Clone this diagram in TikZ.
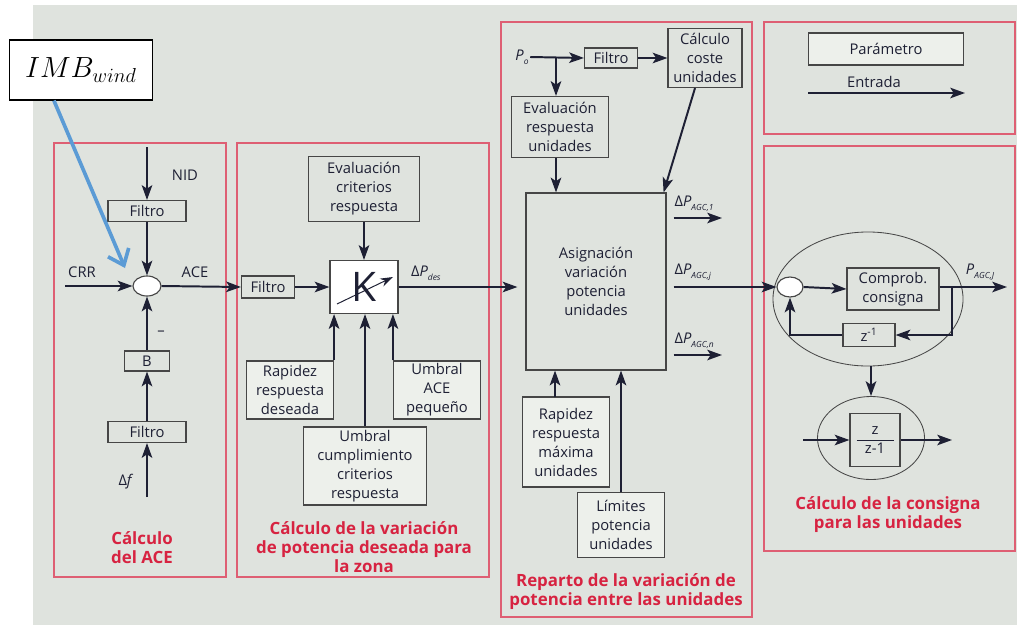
\documentclass[tikz,border=0pt]{standalone}
\usepackage{fontspec}
\setmainfont{Open Sans}
\usetikzlibrary{arrows.meta,positioning,shapes.geometric,calc}
\definecolor{agcgrey}{RGB}{223,227,222}
\definecolor{agcparam}{RGB}{237,240,235}
\definecolor{agcline}{RGB}{70,70,70}
\definecolor{agcred}{RGB}{222,95,115}
\definecolor{agctitle}{RGB}{215,35,65}
\definecolor{agcink}{RGB}{30,32,52}
\definecolor{agcblue}{RGB}{91,155,213}
\newcommand{\boxfont}{\fontsize{10.5}{13.5}\selectfont}
\newcommand{\titlefont}{\fontsize{12}{13.5}\selectfont\bfseries}
\newcommand{\lowtext}[1]{\raisebox{-0.5ex}{\fontsize{6}{6}\selectfont\itshape #1}}

\begin{document}
\begin{tikzpicture}[x=0.025cm,y=-0.025cm,
    blk/.style={draw=agcline,fill=agcgrey,line width=0.8pt,inner sep=1pt,
                align=center,text=agcink,font=\boxfont},
    param/.style={fill=agcparam},
    sumnode/.style={ellipse,draw=agcline,fill=white,line width=0.8pt,
                    minimum width=0.7cm,minimum height=0.5cm,inner sep=0pt},
    flow/.style={-{Stealth[length=10.5pt,width=7.5pt,inset=2.5pt]},line width=1.4pt,draw=agcink},
    lbl/.style={text=agcink,font=\boxfont,inner sep=1pt},
    sublbl/.style={lbl,above right,yshift=3pt},
    panel/.style={draw=agcred,line width=0.9pt},
    ptitle/.style={text=agctitle,font=\titlefont,align=center,inner sep=0pt}]

  % background and panels
  \fill[white] (0,0) rectangle (1017,625);
  \fill[agcgrey] (33,5) rectangle (1017,625);
  \draw[panel] (54,143) rectangle (226,577);
  \draw[panel] (237,143) rectangle (489,577);
  \draw[panel] (501,22) rectangle (752,617);
  \draw[panel] (764,22) rectangle (1015,134);
  \draw[panel] (764,146) rectangle (1015,551);

  % Left panel: ACE
  \node[sumnode] (sace) at (147,286) {};
  \node[blk,minimum width=1.95cm,minimum height=0.525cm] (fnid) at (147,211) {Filtro};
  \node[blk,minimum width=1.125cm,minimum height=0.5cm] (bgain) at (147,361) {B};
  \node[blk,minimum width=1.95cm,minimum height=0.525cm] (fdf) at (147,432) {Filtro};
  \coordinate (nidin) at (147,147);
  \coordinate (crrin) at (65,286);
  \coordinate (dfin) at (147,497);
  \draw[flow] (nidin) -- (fnid.north);
  \draw[flow] (fnid.south) -- (sace.north);
  \draw[flow] (crrin) -- (sace.west);
  \draw[flow] (dfin) -- (fdf.south);
  \draw[flow] (fdf.north) -- (bgain.south);
  \draw[flow] (bgain.north) -- (sace.south);
  \node[lbl] (nid) at (185,175) {NID};
  \node[lbl] (crr) at (82,272) {CRR};
  \node[lbl] (ace) at (195,272) {ACE};
  \node[lbl] (minus) at (161,333) {--};
  \node[lbl] (dflbl) at (126,482) {Δ\textit{f}};
  \node[ptitle] (tace) at (142,548) {Cálculo\\del ACE};

  % Second panel: zone
  \node[blk,minimum width=1.325cm,minimum height=0.55cm] (fzone) at (268,287) {Filtro};
  \node[blk,fill=white,minimum width=1.7cm,minimum height=1.325cm,
        font=\fontsize{29}{29}\selectfont] (kgain) at (364,287) {K};
  \draw[-{Stealth[length=9pt,width=6pt]},line width=0.7pt,agcink]
        ($(kgain.center)+(-27,17)$) -- ($(kgain.center)+(29,-10)$);
  \node[blk,minimum width=2.775cm,minimum height=1.625cm] (evcrit) at (364,189)
        {Evaluación\\criterios\\respuesta};
  \node[blk,param,minimum width=2.175cm,minimum height=1.45cm] (rapdes) at (290,390)
        {Rapidez\\respuesta\\deseada};
  \node[blk,param,minimum width=2.175cm,minimum height=1.45cm] (uace) at (437,390)
        {Umbral\\ACE\\pequeño};
  \node[blk,param,minimum width=3.075cm,minimum height=1.95cm] (umbc) at (365,466)
        {Umbral\\cumplimiento\\criterios\\respuesta};
  \draw[flow] (sace.east) -- (fzone.west);
  \draw[flow] (fzone.east) -- (kgain.west);
  \draw[flow] (evcrit.south) -- (kgain.north);
  \draw[flow] (rapdes.north east) -- (rapdes.north east |- kgain.south);
  \draw[flow] (uace.north west) -- (uace.north west |- kgain.south);
  \draw[flow] (umbc.north) -- (umbc.north |- kgain.south);
  \node[ptitle] (tzone) at (364,547)
        {Cálculo de la variación\\de potencia deseada para\\la zona};

  % Third panel: units
  \node[lbl] (polbl) at (522,57) {\textit{P}\lowtext{o}};
  \node[blk,minimum width=1.325cm,minimum height=0.5cm] (fpo) at (611,58) {Filtro};
  \node[blk,minimum width=1.85cm,minimum height=1.475cm] (coste) at (705,58)
        {Cálculo\\coste\\unidades};
  \node[blk,minimum width=2.425cm,minimum height=1.525cm] (evresp) at (560,127)
        {Evaluación\\respuesta\\unidades};
  \node[blk,minimum width=3.5cm,minimum height=4.425cm] (asig) at (596,281.5)
        {Asignación\\variación\\potencia\\unidades};
  \node[blk,param,minimum width=2.175cm,minimum height=2.25cm] (rapmax) at (566,442)
        {Rapidez\\respuesta\\máxima\\unidades};
  \node[blk,param,minimum width=2.175cm,minimum height=1.625cm] (limpot) at (621,525)
        {Límites\\potencia\\unidades};
  \coordinate (pobr) at (556,57);
  \coordinate (rmtop) at (555,397);
  \draw[flow] (polbl.east) -- (fpo.west);
  \draw[flow] (pobr) -- (pobr |- evresp.north);
  \draw[flow] (fpo.east) -- (coste.west);
  \draw[flow] (evresp.south -| pobr) -- (asig.north -| pobr);
  \draw[flow] ($(coste.south)+(-10,0)$) -- ($(asig.north east)+(-3,0)$);
  \draw[flow] (rmtop) -- (rmtop |- asig.south);
  \draw[flow] (limpot.north) -- (limpot.north |- asig.south);
  \coordinate (agc1) at (722,218);
  \coordinate (agcn) at (722,355);
  \draw[flow,shorten <=0.175cm] (asig.east |- agc1) --
        node[sublbl,pos=0,xshift=4pt] {Δ\textit{P}\lowtext{AGC,1}} (agc1);
  \draw[flow,shorten <=0.175cm] (asig.east |- agcn) --
        node[sublbl,pos=0,xshift=4pt] {Δ\textit{P}\lowtext{AGC,n}} (agcn);
  \node[ptitle] (trep) at (626,592)
        {Reparto de la variación de\\potencia entre las unidades};

  % Legend
  \node[blk,param,minimum width=3.875cm,minimum height=0.8cm] (legpar) at (886,49) {Parámetro};
  \coordinate (legin) at (808,93);
  \coordinate (legout) at (965,93);
  \draw[flow] (legin) -- node[lbl,above=2pt,pos=0.42] {Entrada} (legout);

  % Right panel: set point
  \node[ellipse,draw=agcline,line width=0.6pt,minimum width=4.75cm,
        minimum height=3.35cm] (bigell) at (868,299) {};
  \node[sumnode,minimum width=0.65cm] (scons) at (790,287) {};
  \node[blk,minimum width=2.3cm,minimum height=1.05cm] (comprob) at (893,289)
        {Comprob.\\consigna};
  \node[blk,minimum width=1.3cm,minimum height=0.575cm] (zinv) at (869,335)
        {z\textsuperscript{-1}};
  \coordinate (pagcout) at (1007,287);
  \coordinate (fbbr) at (952,287);
  \draw[flow] (scons.east) -- (comprob.west);
  \draw[flow] (comprob.east |- pagcout) --
        node[lbl,above,pos=0.6,yshift=3pt] {\textit{P}\lowtext{AGC,J}} (pagcout);
  \draw[flow] (fbbr) |- (zinv.east);
  \draw[flow] (zinv.west) -| (scons.south);
  \node[ellipse,draw=agcline,line width=0.6pt,minimum width=2.675cm,
        minimum height=2.075cm] (smallell) at (871,438) {};
  \node[blk,minimum width=1.25cm,minimum height=1.325cm] (zfrac) at (875,440)
        {\begin{tabular}{c}z\\\hline z-1\end{tabular}};
  \coordinate (zin) at (803,440);
  \coordinate (zout) at (952,440);
  \draw[flow] (smallell.north |- bigell.south) -- (smallell.north);
  \draw[flow] (zin) -- (zfrac.west);
  \draw[flow] (zfrac.east) -- (zout);
  \node[ptitle] (tcons) at (888,515) {Cálculo de la consigna\\para las unidades};

  % links between panels
  \draw[flow,shorten >=0.2cm] (kgain.east) --
        node[sublbl,pos=0.08] {Δ\textit{P}\lowtext{des}} (asig.west |- kgain.east);
  \draw[flow,shorten <=0.175cm] (asig.east |- scons.west) --
        node[sublbl,pos=0,xshift=4pt] {Δ\textit{P}\lowtext{AGC,j}} (scons.west);

  % wind imbalance input
  \node[draw=black,fill=white,line width=0.8pt,minimum width=3.575cm,minimum height=1.5cm,
        font=\fontsize{22}{26}\selectfont] (imb) at (81,70) {$IMB_{wind}$};
  \coordinate (imbtip) at (125,268);
  \draw[agcblue,line width=2.6pt,-{Straight Barb[length=10pt,width=16pt]}]
        ($(imb.south west)+(45,0)$) -- (imbtip);
\end{tikzpicture}
\end{document}
